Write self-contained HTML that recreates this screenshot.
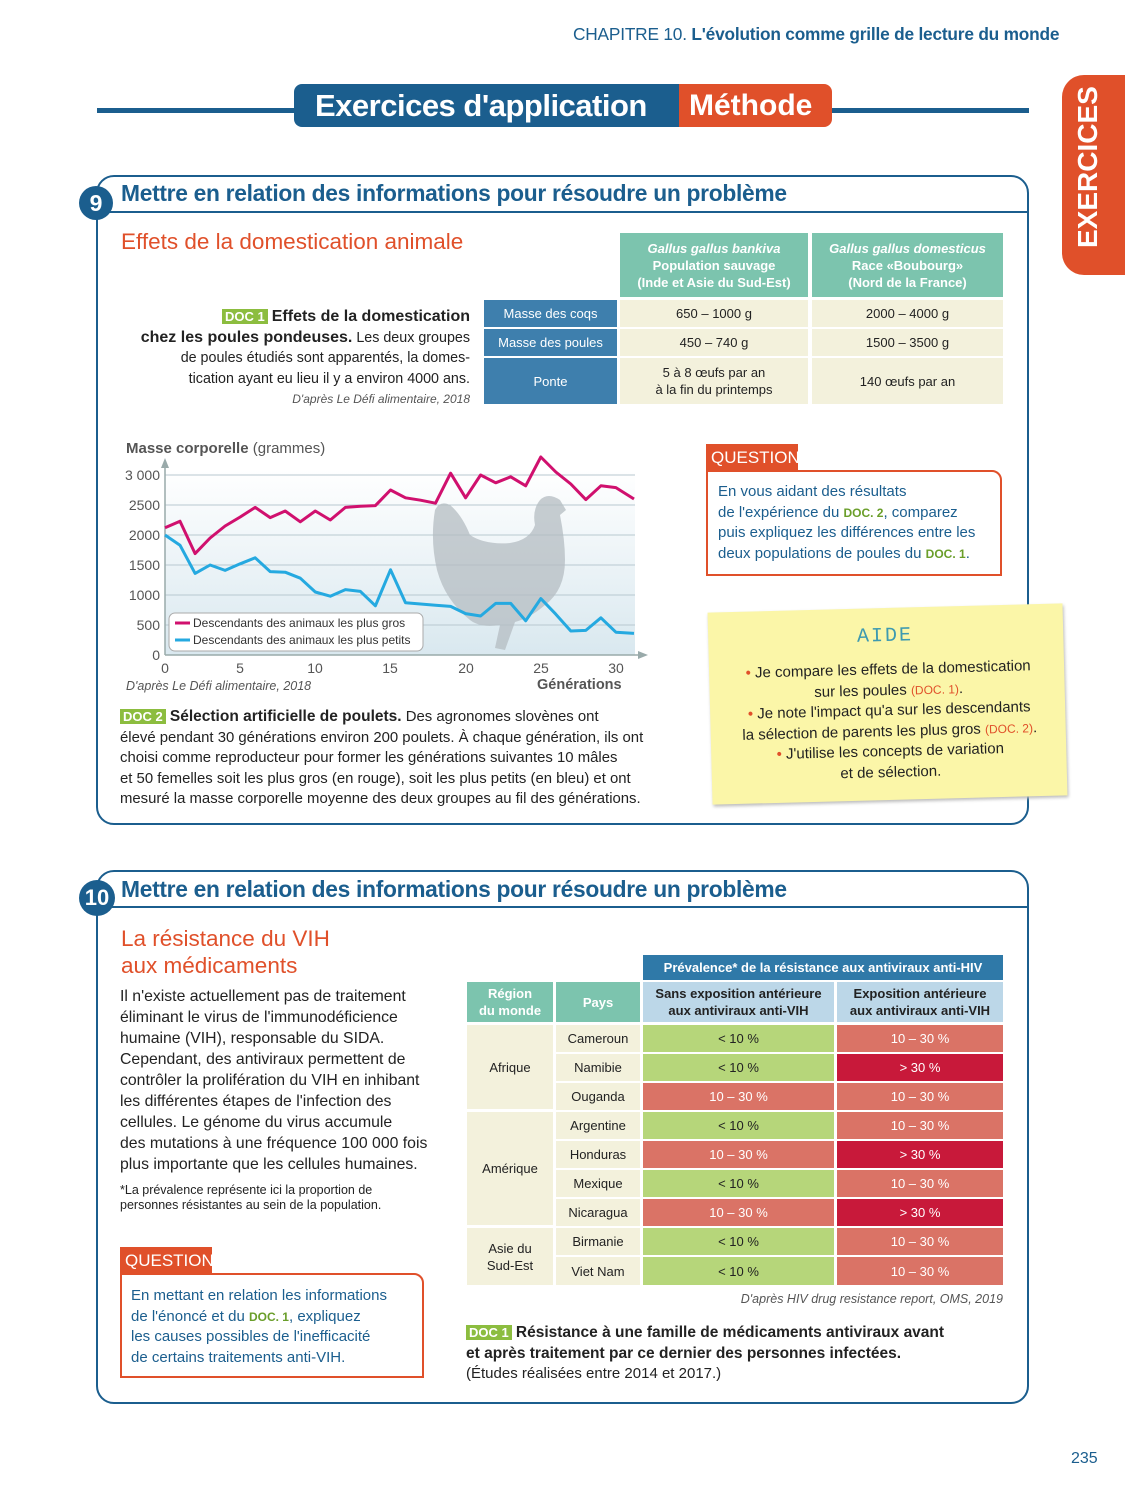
<!DOCTYPE html>
<html><head><meta charset="utf-8">
<style>
*{margin:0;padding:0;box-sizing:border-box}
body{width:1125px;height:1500px;background:#fff;position:relative;font-family:"Liberation Sans",sans-serif;color:#222;overflow:hidden}
.a{position:absolute}
.blue{color:#1b5e8e}
.or{color:#e0502a}
.t{font-size:14.5px;line-height:20.5px;white-space:nowrap}
.cell{position:absolute;display:flex;align-items:center;justify-content:center;text-align:center;font-size:13px;line-height:17px}
.doc{background:#8cbd3f;color:#fff;font-weight:bold;font-size:13px;padding:0 3px}
.g{color:#6a9e2a;font-weight:bold;font-size:12px}
</style></head><body>
<div class="a blue" style="left:573px;top:24px;font-size:17.3px;letter-spacing:-0.2px">CHAPITRE 10. <b>L'évolution comme grille de lecture du monde</b></div>
<div class="a" style="left:97px;top:108px;width:932px;height:5px;background:#1b5e8e"></div>
<div class="a" style="left:294px;top:84px;width:385px;height:43px;background:#1b5e8e;border-radius:8px 0 0 8px;color:#fff;font-weight:bold;font-size:31px;line-height:43px;padding-left:21px;letter-spacing:-0.5px">Exercices d'application</div>
<div class="a" style="left:679px;top:84px;width:153px;height:43px;background:#e0502a;border-radius:0 8px 8px 0;color:#fff;font-weight:bold;font-size:30px;line-height:43px;padding-left:10px">Méthode</div>
<div class="a" style="left:1062px;top:75px;width:70px;height:200px;background:#e0502a;border-radius:22px 0 0 22px"></div>
<div class="a" style="left:1070px;top:248px;transform:rotate(-90deg);transform-origin:0 0;color:#fff;font-size:28px;font-weight:bold;width:160px;line-height:36px">EXERCICES</div>

<!-- box 9 -->
<div class="a" style="left:96px;top:175px;width:933px;height:650px;border:2.5px solid #1b5e8e;border-radius:18px"></div>
<div class="a" style="left:98px;top:211px;width:929px;height:2px;background:#1b5e8e"></div>
<div class="a" style="left:79px;top:186px;width:34px;height:34px;border-radius:50%;background:#1b5e8e;color:#fff;font-weight:bold;font-size:23px;text-align:center;line-height:34px">9</div>
<div class="a blue" style="left:121px;top:180px;font-size:22.8px;font-weight:bold;letter-spacing:-0.3px">Mettre en relation des informations pour résoudre un problème</div>
<div class="a or" style="left:121px;top:229px;font-size:22.5px">Effets de la domestication animale</div>
<div class="a t" style="left:120px;top:307px;width:350px;text-align:right;font-size:14.3px"><span class="doc">DOC 1</span> <b style="font-size:16px">Effets de la domestication</b><br><b style="font-size:16px">chez les poules pondeuses.</b> Les deux groupes<br>de poules étudiés sont apparentés, la domes-<br>tication ayant eu lieu il y a environ 4000 ans.<br><i style="font-size:12px;color:#555">D'après Le Défi alimentaire, 2018</i></div>

<div class="cell" style="left:620px;top:233px;width:188px;height:64px;background:#7cc4ae;color:#fff;font-weight:bold"><span><i>Gallus gallus bankiva</i><br>Population sauvage<br>(Inde et Asie du Sud-Est)</span></div>
<div class="cell" style="left:812px;top:233px;width:191px;height:64px;background:#7cc4ae;color:#fff;font-weight:bold"><span><i>Gallus gallus domesticus</i><br>Race «Boubourg»<br>(Nord de la France)</span></div>
<div class="cell" style="left:484px;top:300px;width:133px;height:27px;background:#3e7fad;color:#fff">Masse des coqs</div>
<div class="cell" style="left:484px;top:329px;width:133px;height:27px;background:#3e7fad;color:#fff">Masse des poules</div>
<div class="cell" style="left:484px;top:358px;width:133px;height:46px;background:#3e7fad;color:#fff">Ponte</div>
<div class="cell" style="left:620px;top:300px;width:188px;height:27px;background:#f3f1dc">650 – 1000 g</div>
<div class="cell" style="left:812px;top:300px;width:191px;height:27px;background:#f3f1dc">2000 – 4000 g</div>
<div class="cell" style="left:620px;top:329px;width:188px;height:27px;background:#f3f1dc">450 – 740 g</div>
<div class="cell" style="left:812px;top:329px;width:191px;height:27px;background:#f3f1dc">1500 – 3500 g</div>
<div class="cell" style="left:620px;top:358px;width:188px;height:46px;background:#f3f1dc">5 à 8 œufs par an<br>à la fin du printemps</div>
<div class="cell" style="left:812px;top:358px;width:191px;height:46px;background:#f3f1dc">140 œufs par an</div>

<svg class="a" style="left:0;top:0" width="1125" height="830">
<defs><linearGradient id="bg" x1="0" y1="0" x2="0" y2="1"><stop offset="0" stop-color="#fff"/><stop offset="1" stop-color="#d9e8ef"/></linearGradient></defs>
<rect x="165" y="470" width="470" height="185" fill="url(#bg)"/>
<g stroke="#b8c8d0" stroke-width="1">
<line x1="165" y1="475" x2="635" y2="475"/><line x1="165" y1="505" x2="635" y2="505"/><line x1="165" y1="535" x2="635" y2="535"/><line x1="165" y1="565" x2="635" y2="565"/><line x1="165" y1="595" x2="635" y2="595"/><line x1="165" y1="625" x2="635" y2="625"/></g>
<line x1="165" y1="655" x2="642" y2="655" stroke="#9aa" stroke-width="1.5"/>
<line x1="165" y1="655" x2="165" y2="462" stroke="#9aa" stroke-width="1.5"/>
<path d="M161 468 L165 458 L169 468Z M638 651 L648 655 L638 659Z" fill="#9aa"/>
<path d="M435 510 Q440 500 450 505 Q462 515 470 535 Q485 545 510 543 Q530 540 535 525 Q532 510 540 500 Q548 492 560 500 L566 510 L560 515 Q565 540 565 560 Q565 590 545 605 Q530 618 515 622 L505 650 L495 648 L500 625 Q480 628 470 620 Q445 600 437 570 Q430 540 435 510Z" fill="#b4bcc2" opacity="0.75"/>
<polyline fill="none" stroke="#d0106e" stroke-width="3" stroke-linejoin="round" points="165,527.8 180,521.2 195.1,553.6 210.1,538 225.1,526 240.2,517 255.2,507.4 270.2,517.6 285.2,511 300.3,521.8 315.3,511 330.3,520 345.4,507.4 360.4,506.2 375.4,505.6 390.5,490 405.5,497.8 420.5,500.2 435.5,503.2 450.6,473.2 465.6,497.8 480.6,475 495.7,482.8 510.7,476.8 525.7,485.8 540.8,457 555.8,472 570.8,484 585.8,499.6 600.9,485.8 615.9,487.6 634,499"/>
<polyline fill="none" stroke="#25a9e0" stroke-width="3" stroke-linejoin="round" points="165,535 180,545.2 195.1,573.4 210.1,565 225.1,570.4 240.2,563.8 255.2,557.8 270.2,571.6 285.2,572.2 300.3,578.2 315.3,592 330.3,596.2 345.4,589.6 360.4,591.4 375.4,605.8 390.5,569.8 405.5,602.8 420.5,604 435.5,605.2 450.6,606.4 465.6,613.6 480.6,616 495.7,603.4 510.7,603.4 525.7,620.8 540.8,598.6 555.8,614.2 570.8,631 585.8,630.4 600.9,617.8 615.9,632.2 634,633.4"/>
<rect x="169" y="613" width="254" height="38" rx="6" fill="#fff" stroke="#aaa"/>
<line x1="175" y1="623" x2="190" y2="623" stroke="#d0106e" stroke-width="3"/>
<line x1="175" y1="640" x2="190" y2="640" stroke="#25a9e0" stroke-width="3"/>
<g font-family="Liberation Sans" font-size="12" fill="#333">
<text x="193" y="627">Descendants des animaux les plus gros</text>
<text x="193" y="644">Descendants des animaux les plus petits</text></g>
<g font-family="Liberation Sans" font-size="14" fill="#555" text-anchor="end">
<text x="160" y="480">3 000</text><text x="160" y="510">2500</text><text x="160" y="540">2000</text><text x="160" y="570">1500</text><text x="160" y="600">1000</text><text x="160" y="630">500</text><text x="160" y="660">0</text></g>
<g font-family="Liberation Sans" font-size="14" fill="#555" text-anchor="middle">
<text x="165" y="673">0</text><text x="240" y="673">5</text><text x="315" y="673">10</text><text x="390" y="673">15</text><text x="466" y="673">20</text><text x="541" y="673">25</text><text x="616" y="673">30</text></g>
<text x="126" y="453" font-family="Liberation Sans" font-size="15" fill="#555"><tspan font-weight="bold">Masse corporelle</tspan> (grammes)</text>
<text x="126" y="690" font-family="Liberation Sans" font-size="12.5" font-style="italic" fill="#555">D'après Le Défi alimentaire, 2018</text>
<text x="537" y="689" font-family="Liberation Sans" font-size="14.5" font-weight="bold" fill="#555">Générations</text>
</svg>

<div class="a t" style="left:120px;top:707px;width:540px;font-size:14.9px"><span class="doc">DOC 2</span> <b style="font-size:15.5px">Sélection artificielle de poulets.</b> Des agronomes slovènes ont<br>élevé pendant 30 générations environ 200 poulets. À chaque génération, ils ont<br>choisi comme reproducteur pour former les générations suivantes 10 mâles<br>et 50 femelles soit les plus gros (en rouge), soit les plus petits (en bleu) et ont<br>mesuré la masse corporelle moyenne des deux groupes au fil des générations.</div>

<div class="a" style="left:706px;top:444px;width:92px;height:27px;background:#e0502a;color:#fff;font-size:17px;line-height:27px;padding-left:5px;white-space:nowrap;overflow:hidden">QUESTION</div>
<div class="a" style="left:706px;top:470px;width:296px;height:106px;border:2px solid #e0502a;border-radius:0 10px 0 0"></div>
<div class="a blue t" style="left:718px;top:482px;width:280px;font-size:15px">En vous aidant des résultats<br>de l'expérience du <span class="g">DOC. 2</span>, comparez<br>puis expliquez les différences entre les<br>deux populations de poules du <span class="g">DOC. 1</span>.</div>

<div class="a" style="left:710px;top:608px;width:355px;height:192px;background:#fbf6a8;transform:rotate(-1.5deg);box-shadow:1px 2px 3px #bbb"></div>
<div class="a" style="left:857px;top:625px;font-family:'Liberation Mono',monospace;font-size:20px;color:#3e9ab0;letter-spacing:2px;transform:rotate(-1.5deg)">AIDE</div>
<div class="a t" style="left:722px;top:660px;width:335px;text-align:center;transform:rotate(-1.5deg);font-size:15px;line-height:20.5px"><span class="or">•</span> Je compare les effets de la domestication<br>sur les poules <span class="or" style="font-size:12px">(DOC. 1)</span>.<br><span class="or">•</span> Je note l'impact qu'a sur les descendants<br>la sélection de parents les plus gros <span class="or" style="font-size:12px">(DOC. 2)</span>.<br><span class="or">•</span> J'utilise les concepts de variation<br>et de sélection.</div>

<!-- box 10 -->
<div class="a" style="left:96px;top:870px;width:933px;height:534px;border:2.5px solid #1b5e8e;border-radius:18px"></div>
<div class="a" style="left:98px;top:906px;width:929px;height:2px;background:#1b5e8e"></div>
<div class="a" style="left:79px;top:880px;width:36px;height:36px;border-radius:50%;background:#1b5e8e;color:#fff;font-weight:bold;font-size:22px;text-align:center;line-height:36px">10</div>
<div class="a blue" style="left:121px;top:876px;font-size:22.8px;font-weight:bold;letter-spacing:-0.3px">Mettre en relation des informations pour résoudre un problème</div>
<div class="a or" style="left:121px;top:925px;font-size:22.5px;line-height:27px">La résistance du VIH<br>aux médicaments</div>
<div class="a t" style="left:120px;top:986px;width:330px;font-size:15.8px;line-height:21px">Il n'existe actuellement pas de traitement<br>éliminant le virus de l'immunodéficience<br>humaine (VIH), responsable du SIDA.<br>Cependant, des antiviraux permettent de<br>contrôler la prolifération du VIH en inhibant<br>les différentes étapes de l'infection des<br>cellules. Le génome du virus accumule<br>des mutations à une fréquence 100 000 fois<br>plus importante que les cellules humaines.</div>
<div class="a t" style="left:120px;top:1183px;width:320px;font-size:12.5px;line-height:15px">*La prévalence représente ici la proportion de<br>personnes résistantes au sein de la population.</div>
<div class="a" style="left:120px;top:1247px;width:92px;height:27px;background:#e0502a;color:#fff;font-size:17px;line-height:27px;padding-left:5px;white-space:nowrap;overflow:hidden">QUESTION</div>
<div class="a" style="left:120px;top:1273px;width:304px;height:105px;border:2px solid #e0502a;border-radius:0 10px 0 0"></div>
<div class="a blue t" style="left:131px;top:1286px;width:285px;font-size:15px">En mettant en relation les informations<br>de l'énoncé et du <span class="g">DOC. 1</span>, expliquez<br>les causes possibles de l'inefficacité<br>de certains traitements anti-VIH.</div>

<div class="cell" style="left:643px;top:955px;width:360px;height:25px;background:#2f79a8;color:#fff;font-weight:bold">Prévalence* de la résistance aux antiviraux anti-HIV</div>
<div class="cell" style="left:467px;top:982px;width:86px;height:40px;background:#7cc4ae;color:#fff;font-weight:bold">Région<br>du monde</div>
<div class="cell" style="left:556px;top:982px;width:84px;height:40px;background:#7cc4ae;color:#fff;font-weight:bold">Pays</div>
<div class="cell" style="left:643px;top:982px;width:191px;height:40px;background:#bcd7e8;font-weight:bold">Sans exposition antérieure<br>aux antiviraux anti-VIH</div>
<div class="cell" style="left:837px;top:982px;width:166px;height:40px;background:#bcd7e8;font-weight:bold">Exposition antérieure<br>aux antiviraux anti-VIH</div>
<div class="cell" style="left:467px;top:1025px;width:86px;height:84px;background:#f3f1dc">Afrique</div>
<div class="cell" style="left:467px;top:1112px;width:86px;height:113px;background:#f3f1dc">Amérique</div>
<div class="cell" style="left:467px;top:1228px;width:86px;height:57px;background:#f3f1dc">Asie du<br>Sud-Est</div>

<div class="cell" style="left:556px;top:1025px;width:84px;height:27px;background:#f3f1dc">Cameroun</div>
<div class="cell" style="left:643px;top:1025px;width:191px;height:27px;background:#b6d67a">&lt; 10 %</div>
<div class="cell" style="left:837px;top:1025px;width:166px;height:27px;background:#da7366;color:#fff">10 – 30 %</div>
<div class="cell" style="left:556px;top:1054px;width:84px;height:27px;background:#f3f1dc">Namibie</div>
<div class="cell" style="left:643px;top:1054px;width:191px;height:27px;background:#b6d67a">&lt; 10 %</div>
<div class="cell" style="left:837px;top:1054px;width:166px;height:27px;background:#c8193a;color:#fff">&gt; 30 %</div>
<div class="cell" style="left:556px;top:1083px;width:84px;height:27px;background:#f3f1dc">Ouganda</div>
<div class="cell" style="left:643px;top:1083px;width:191px;height:27px;background:#da7366;color:#fff">10 – 30 %</div>
<div class="cell" style="left:837px;top:1083px;width:166px;height:27px;background:#da7366;color:#fff">10 – 30 %</div>
<div class="cell" style="left:556px;top:1112px;width:84px;height:27px;background:#f3f1dc">Argentine</div>
<div class="cell" style="left:643px;top:1112px;width:191px;height:27px;background:#b6d67a">&lt; 10 %</div>
<div class="cell" style="left:837px;top:1112px;width:166px;height:27px;background:#da7366;color:#fff">10 – 30 %</div>
<div class="cell" style="left:556px;top:1141px;width:84px;height:27px;background:#f3f1dc">Honduras</div>
<div class="cell" style="left:643px;top:1141px;width:191px;height:27px;background:#da7366;color:#fff">10 – 30 %</div>
<div class="cell" style="left:837px;top:1141px;width:166px;height:27px;background:#c8193a;color:#fff">&gt; 30 %</div>
<div class="cell" style="left:556px;top:1170px;width:84px;height:27px;background:#f3f1dc">Mexique</div>
<div class="cell" style="left:643px;top:1170px;width:191px;height:27px;background:#b6d67a">&lt; 10 %</div>
<div class="cell" style="left:837px;top:1170px;width:166px;height:27px;background:#da7366;color:#fff">10 – 30 %</div>
<div class="cell" style="left:556px;top:1199px;width:84px;height:27px;background:#f3f1dc">Nicaragua</div>
<div class="cell" style="left:643px;top:1199px;width:191px;height:27px;background:#da7366;color:#fff">10 – 30 %</div>
<div class="cell" style="left:837px;top:1199px;width:166px;height:27px;background:#c8193a;color:#fff">&gt; 30 %</div>
<div class="cell" style="left:556px;top:1228px;width:84px;height:27px;background:#f3f1dc">Birmanie</div>
<div class="cell" style="left:643px;top:1228px;width:191px;height:27px;background:#b6d67a">&lt; 10 %</div>
<div class="cell" style="left:837px;top:1228px;width:166px;height:27px;background:#da7366;color:#fff">10 – 30 %</div>
<div class="cell" style="left:556px;top:1257px;width:84px;height:28px;background:#f3f1dc">Viet Nam</div>
<div class="cell" style="left:643px;top:1257px;width:191px;height:28px;background:#b6d67a">&lt; 10 %</div>
<div class="cell" style="left:837px;top:1257px;width:166px;height:28px;background:#da7366;color:#fff">10 – 30 %</div>

<div class="a" style="left:600px;top:1292px;width:403px;text-align:right;font-size:12.5px;font-style:italic;color:#555">D'après HIV drug resistance report, OMS, 2019</div>
<div class="a t" style="left:466px;top:1323px;width:540px;font-size:15px"><span class="doc">DOC 1</span> <b style="font-size:15.5px">Résistance à une famille de médicaments antiviraux avant</b><br><b style="font-size:15.5px">et après traitement par ce dernier des personnes infectées.</b><br>(Études réalisées entre 2014 et 2017.)</div>

<div class="a blue" style="left:1071px;top:1450px;font-size:16px">235</div>
</body></html>
